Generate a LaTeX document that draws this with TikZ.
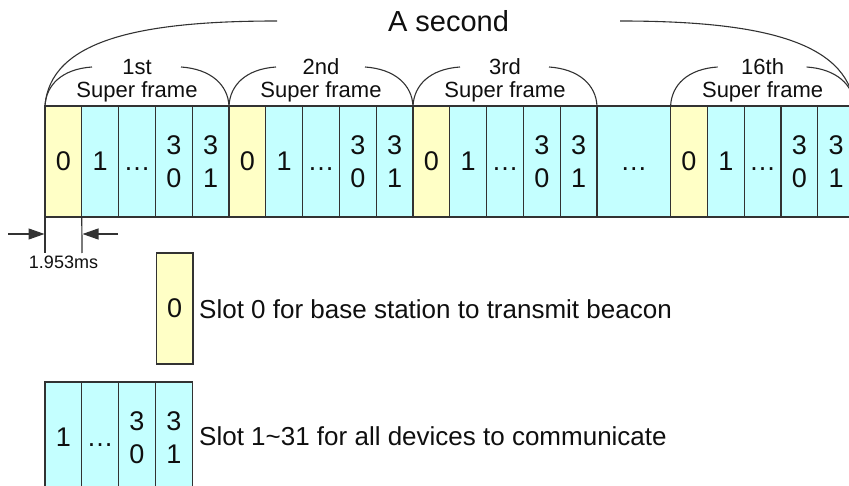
\documentclass[tikz,border=0pt]{standalone}
\usepackage{fontspec}
\setmainfont{Liberation Sans}
\usetikzlibrary{arrows.meta}
\definecolor{slotyellow}{RGB}{255,255,198}
\definecolor{slotcyan}{RGB}{196,255,255}
\definecolor{linec}{RGB}{50,50,50}
\definecolor{textc}{RGB}{15,15,15}
\begin{document}
\begin{tikzpicture}[x=1pt,y=-1pt,
  slotbox/.style={draw=linec, line width=1.3pt, minimum width=36.8pt, minimum height=111pt,
    inner sep=0pt, outer sep=0pt, font=\fontsize{27}{33}\selectfont, align=center, text=textc},
  beacon/.style={slotbox, fill=slotyellow},
  devslot/.style={slotbox, fill=slotcyan},
  arcline/.style={draw=linec, line width=1.1pt},
  thinline/.style={draw=linec, line width=1.2pt},
  lab/.style={font=\fontsize{22}{23}\selectfont, inner sep=0pt, text=textc},
  bigtext/.style={font=\fontsize{26}{30}\selectfont, inner sep=0pt, text=textc},
  dimarrow/.style={thinline, -{Triangle[length=16pt,width=11pt]}}]
\useasboundingbox (0,0) rectangle (849,486);
% frames
\foreach \k/\x/\lab in {1/45/1st,2/229/2nd,3/413/3rd,4/670.6/16th} {
  \node[beacon]  (f\k s0) at (\x+18.4,161.5) {0};
  \node[devslot] (f\k s1) at (\x+55.2,161.5) {1};
  \node[devslot] (f\k s2) at (\x+92,161.5) {\vphantom{0}…};
  \node[devslot] (f\k s3) at (\x+128.8,161.5) {3\\0};
  \node[devslot] (f\k s4) at (\x+165.6,161.5) {3\\1};
  \node[lab, anchor=base] (f\k n) at (\x+92,75) {\lab};
  \node[lab, anchor=base] (f\k t) at (\x+92,98) {Super frame};
  \coordinate (f\k a) at (\x+47,67);
  \coordinate (f\k b) at (\x+136,67);
  \draw[arcline] (f\k s0.north west) .. controls +(1,-21) and +(-30,2) .. (f\k a);
  \draw[arcline] (f\k b) .. controls +(30,2) and +(-1,-21) .. (f\k s4.north east);
}
% middle ellipsis block
\node[devslot, minimum width=73.6pt] (mid) at (633.8,161.5) {\vphantom{0}…};
% A second
\node[bigtext, font=\fontsize{29}{32}\selectfont, anchor=base] (sec) at (448.5,32) {A second};
\coordinate (secl) at (277,21);
\coordinate (secr) at (620,21);
\draw[arcline] (f1s0.north west) .. controls (50,40) and (140,21) .. (secl);
\draw[arcline] (secr) .. controls (757,21) and (847,40) .. (f4s4.north east);
% slot width dimension
\coordinate (e1) at (45,253);
\coordinate (e2) at (82,253);
\draw[thinline] (f1s0.south west) -- (e1);
\draw[thinline] (f1s0.south east) -- (e2);
\coordinate (a1) at (8,234);
\coordinate (a1t) at (44.5,234);
\coordinate (a2) at (118,234);
\coordinate (a2t) at (82.5,234);
\draw[dimarrow] (a1) -- (a1t);
\draw[dimarrow] (a2) -- (a2t);
\node[lab, font=\fontsize{18}{20}\selectfont, anchor=base] (ms) at (63.5,269) {1.953ms};
% legend
\node[beacon] (L0) at (174.6,308.5) {0};
\node[bigtext, anchor=base west] (L0t) at (199,319) {Slot 0 for base station to transmit beacon};
\node[devslot] (L1) at (63.4,437.5) {1};
\node[devslot] (L2) at (100.2,437.5) {\vphantom{0}…};
\node[devslot] (L3) at (137,437.5) {3\\0};
\node[devslot] (L4) at (173.8,437.5) {3\\1};
\node[bigtext, anchor=base west] (L1t) at (199,445) {Slot 1\textasciitilde 31 for all devices to communicate};
\end{tikzpicture}
\end{document}
